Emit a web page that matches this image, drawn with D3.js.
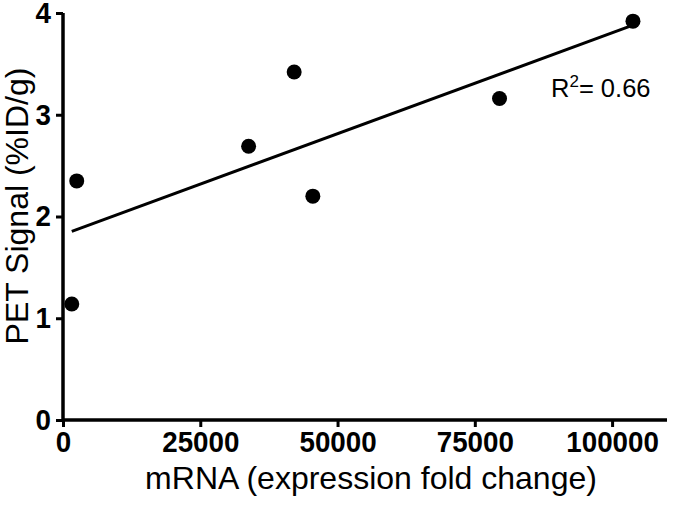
<!DOCTYPE html>
<style>
  html, body { margin:0; background:#fff; }
  text { font-family: "Liberation Sans", Arial, sans-serif; }
</style>
<svg width="677" height="506"></svg>
<script src="https://cdn.jsdelivr.net/npm/d3@7"></script>
<script>

// mRNA fold change vs PET signal
var mrna = [1600, 2500, 33800, 42100, 45500, 79500, 103800],
    pet  = [1.14, 2.35, 2.69, 3.42, 2.20, 3.16, 3.92];

var xTicks = [0, 25000, 50000, 75000, 100000],
    yTicks = [0, 1, 2, 3, 4];

var svg = d3.select("svg"),
    margin = {left: 63, right: 10, top: 13, bottom: 86},
    width = 677 - margin.left - margin.right,
    height = 506 - margin.top - margin.bottom;

var x = d3.scaleLinear().domain([0, 110000]).range([0, 604]),
    y = d3.scaleLinear().domain([0, 4]).range([height, 0]);

var g = svg.append("g")
    .attr("transform", "translate(" + margin.left + "," + margin.top + ")");

// least squares fit
var mx = d3.mean(mrna), my = d3.mean(pet),
    sxy = d3.sum(mrna, function(d, i) { return (d - mx) * (pet[i] - my); }),
    sxx = d3.sum(mrna, function(d) { return (d - mx) * (d - mx); }),
    slope = sxy / sxx,
    icpt = my - slope * mx;
var xr = d3.extent(mrna);

g.append("line")
    .attr("x1", x(xr[0])).attr("y1", y(icpt + slope * xr[0]))
    .attr("x2", x(xr[1])).attr("y2", y(icpt + slope * xr[1]))
    .attr("stroke", "#000").attr("stroke-width", 3);

var xAxis = g.append("g")
    .attr("transform", "translate(0," + height + ")")
    .call(d3.axisBottom(x).tickValues(xTicks).tickFormat(d3.format("d")).tickSize(7).tickPadding(4));

var yAxis = g.append("g")
    .call(d3.axisLeft(y).tickValues(yTicks).tickFormat(d3.format("d")).tickSize(7).tickPadding(5));

[xAxis, yAxis].forEach(function(a) {
  a.select(".domain").attr("stroke-width", 3.5);
  a.selectAll(".tick line").attr("stroke-width", 3);
  a.selectAll("text")
      .attr("fill", "#000")
      .style("font-size", "29.5px")
      .style("font-weight", "bold")
      .each(function() {
        // the original digits are a little narrower
        var w = this.getComputedTextLength();
        d3.select(this).attr("textLength", w * 0.94).attr("lengthAdjust", "spacingAndGlyphs");
      });
});
xAxis.select(".domain").attr("d", "M0,0H" + x(110000));
yAxis.select(".domain").attr("d", "M0," + height + "V0");

g.selectAll("circle")
  .data(mrna)
  .enter().append("circle")
    .attr("cx", function(d) { return x(d); })
    .attr("cy", function(d, i) { return y(pet[i]); })
    .attr("r", 7.5)
    .attr("fill", "#000");

// R squared
var r2 = sxy * sxy / (sxx * d3.sum(pet, function(d) { return (d - my) * (d - my); }));
var lbl = svg.append("text")
    .attr("x", 551).attr("y", 97)
    .style("font-size", "25.5px");
lbl.append("tspan").text("R");
lbl.append("tspan").attr("dy", -10).style("font-size", "17px").text("2");
lbl.append("tspan").attr("dy", 10).text("= " + r2.toFixed(2));

svg.append("text")
    .attr("x", 371).attr("y", 489)
    .attr("text-anchor", "middle")
    .style("font-size", "32px")
    .text("mRNA (expression fold change)");

svg.append("text")
    .attr("transform", "translate(28,206) rotate(-90)")
    .attr("text-anchor", "middle")
    .style("font-size", "32px")
    .text("PET Signal (%ID/g)");

</script>
